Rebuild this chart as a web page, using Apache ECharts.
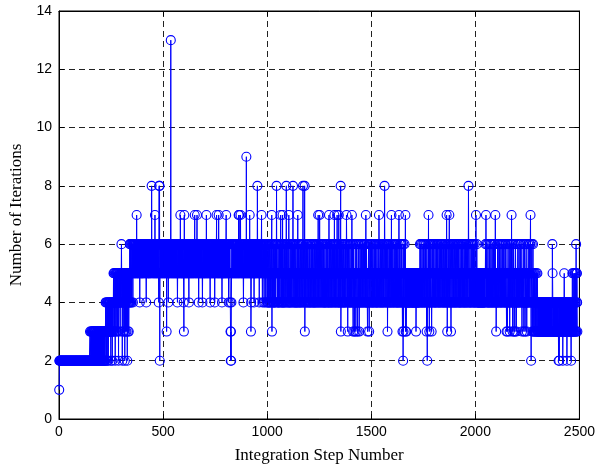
<!DOCTYPE html>
<html>
<head>
<meta charset="utf-8">
<script src="https://cdn.jsdelivr.net/npm/echarts@6/dist/echarts.min.js"></script>
<style>
html,body{margin:0;padding:0;background:#fff;}
#c{width:598px;height:469px;}
</style>
</head>
<body>
<div id="c"></div>
<script>
// Number of iterations per integration step (hex digits, 'd' = 13).
// Steps 1-350 (start-up phase)
const phaseStart = [
"1222222222 2222222222 2222222222 2222222222 2222222222",
"2222222222 2222222222 2222222222 2222222222 2222222222",
"2222222222 2222222222 2222222222 2222222222 2222222232",
"2232232322 3232332322 3233232232 2323322323 3232233232",
"3232332323 2332323223 3234343234 3243432343 4343434323",
"4343424343 4545434542 4545345454 3545424545 4543545456",
"5452545345 4535424534 5453545254 3545345456 5465456545"
];
// Steps 351-1000
const phaseEarly = [
"6565465656 5656556565 6575656556 5656565456 5656556565",
"5656565656 6565656545 6565656565 5565656556 6565865656",
"6565656565 7565656565 6565656545 8682565656 5656565656",
"5656565656 5656563565 6565456565 565656d565 6565656565",
"6565656565 6565656545 6565656565 6575656565 5565656543",
"5756565656 5656565656 5654656565 6565656565 6565656565",
"6756565656 5675656565 4565656565 6565656545 6565656565",
"5656565756 5656565656 5656545656 5656565656 5656565456",
"5656567565 6565657565 6565656565 6545656565 5565656565",
"5675656565 6565456565 6543232456 6565656565 6565656565",
"6565656565 6575756565 6756565656 5656545656 5656565659",
"5656565656 5656575656 5345656565 6565654565 5565656565",
"6586565656 5456565656 5675654565 6565456565 4565656545"
];
// Steps 1001-2300
const phaseMain = [
"6545456545 6545456545 5736545456 5454565456 4565856545",
"4565454565 4565745645 6547456545 4565456545 6854565456",
"5457545456 5456545654 5658456545 6545456545 4565457456",
"5456545456 5456545654 5856545458 3545654565 4565456545",
"5456545456 5456545654 6545456545 4565456545 6545745654",
"5754565456 5456545654 6545456545 4565456545 6545457456",
"5456545456 5456545654 6574565456 4565475654 5457456545",
"4583456545 6545456545 4565456545 7654563545 6545456545",
"4565457456 5436545435 4565434565 4543456545 6345456545",
"4565456545 4565456545 6547456545 4345456543 4565456545",
"6545456545 4565456545 6545456545 4565457654 5456545456",
"5456545456 5458654565 4565456345 6545456545 4565457456",
"5456545456 5456545654 6545456545 4575456545 4565456543",
"4526345456 5457345345 4545454545 4545454545 5454545454",
"4545454545 4545345454 5454545454 5456545654 5456545456",
"5456545456 5456534525 4565745436 4565456543 4565456545",
"6545456545 4565456545 6545456545 4565456545 6545456545",
"4565456545 4756345456 5456745456 5434565456 5456545456",
"5456545456 5456545654 6545456545 4565456545 6545456545",
"4565456545 4565458654 5456545456 5456545654 6545456545",
"4575456545 4545454545 4545454545 4545454545 4545454565",
"7545654545 6545454565 4545654545 6545456545 4565475453",
"4545456545 4565456545 4565454565 4565456545 4565456543",
"4543456545 4565345456 5457456534 5456534543 4565453454",
"5456545456 5454565456 5453545456 5434565434 5456543454",
"5456545456 5456754245 6543456345 4345434543 4345434543"
];
// Steps 2301-2490
const phaseLate = [
"3434433434 3443434334 4343343443 4334343434 3434434343",
"4343343434 4343434436 5434343343 4343434334 3434343432",
"3423434343 4343434342 3434345434 3434343432 3434343434",
"3434343432 3434353435 4343534543 4536354543"
];
const xTicks = [0, 500, 1000, 1500, 2000, 2500];
const yTicks = [0, 2, 4, 6, 8, 10, 12, 14];

const iterations = phaseStart.concat(phaseEarly, phaseMain, phaseLate)
  .join('').replace(/\s+/g, '').split('').map(ch => parseInt(ch, 16));
const points = iterations.map((v, i) => [i + 1, v]);

const chart = echarts.init(document.getElementById('c'), null, {renderer: 'canvas'});
const tickStyle = {show: true, inside: true, length: 5, lineStyle: {color: '#000', width: 1}};
const dashGrid = {show: true, lineStyle: {color: '#222', width: 1, type: [6, 4]}};
chart.setOption({
  animation: false,
  backgroundColor: '#fff',
  grid: {left: 59, right: 18, top: 11, bottom: 49, show: true, borderColor: '#000', borderWidth: 1, backgroundColor: 'transparent'},
  xAxis: [{
    type: 'value', min: xTicks[0], max: xTicks[xTicks.length - 1], interval: 500,
    name: 'Integration Step Number', nameLocation: 'middle', nameGap: 28,
    nameTextStyle: {fontFamily: 'Liberation Serif', fontSize: 17, color: '#000'},
    axisLine: {show: true, onZero: false, lineStyle: {color: '#000', width: 1}},
    axisTick: tickStyle,
    axisLabel: {fontFamily: 'Liberation Sans', fontSize: 14, color: '#000', margin: 6, formatter: v => String(v)},
    splitLine: dashGrid
  }, {
    type: 'value', position: 'top', min: xTicks[0], max: xTicks[xTicks.length - 1], interval: 500,
    axisLine: {show: true, onZero: false, lineStyle: {color: '#000', width: 1}},
    axisTick: tickStyle, axisLabel: {show: false}, splitLine: {show: false}
  }],
  yAxis: [{
    type: 'value', min: yTicks[0], max: yTicks[yTicks.length - 1], interval: 2,
    name: 'Number of Iterations', nameLocation: 'middle', nameGap: 31,
    nameTextStyle: {fontFamily: 'Liberation Serif', fontSize: 17, color: '#000'},
    axisLine: {show: true, onZero: false, lineStyle: {color: '#000', width: 1}},
    axisTick: tickStyle,
    axisLabel: {fontFamily: 'Liberation Sans', fontSize: 14, color: '#000', margin: 7, formatter: v => String(v)},
    splitLine: dashGrid
  }, {
    type: 'value', position: 'right', min: yTicks[0], max: yTicks[yTicks.length - 1], interval: 2,
    axisLine: {show: true, onZero: false, lineStyle: {color: '#000', width: 1}},
    axisTick: tickStyle, axisLabel: {show: false}, splitLine: {show: false}
  }],
  series: [{
    type: 'line',
    data: points,
    xAxisIndex: 0, yAxisIndex: 0,
    showAllSymbol: true,
    sampling: null,
    symbol: 'circle',
    symbolSize: 9,
    lineStyle: {color: '#0000ff', width: 1},
    itemStyle: {color: 'rgba(0,0,0,0)', borderColor: '#0000ff', borderWidth: 1.1},
    emphasis: {disabled: true},
    z: 3
  }]
});
</script>
</body>
</html>
